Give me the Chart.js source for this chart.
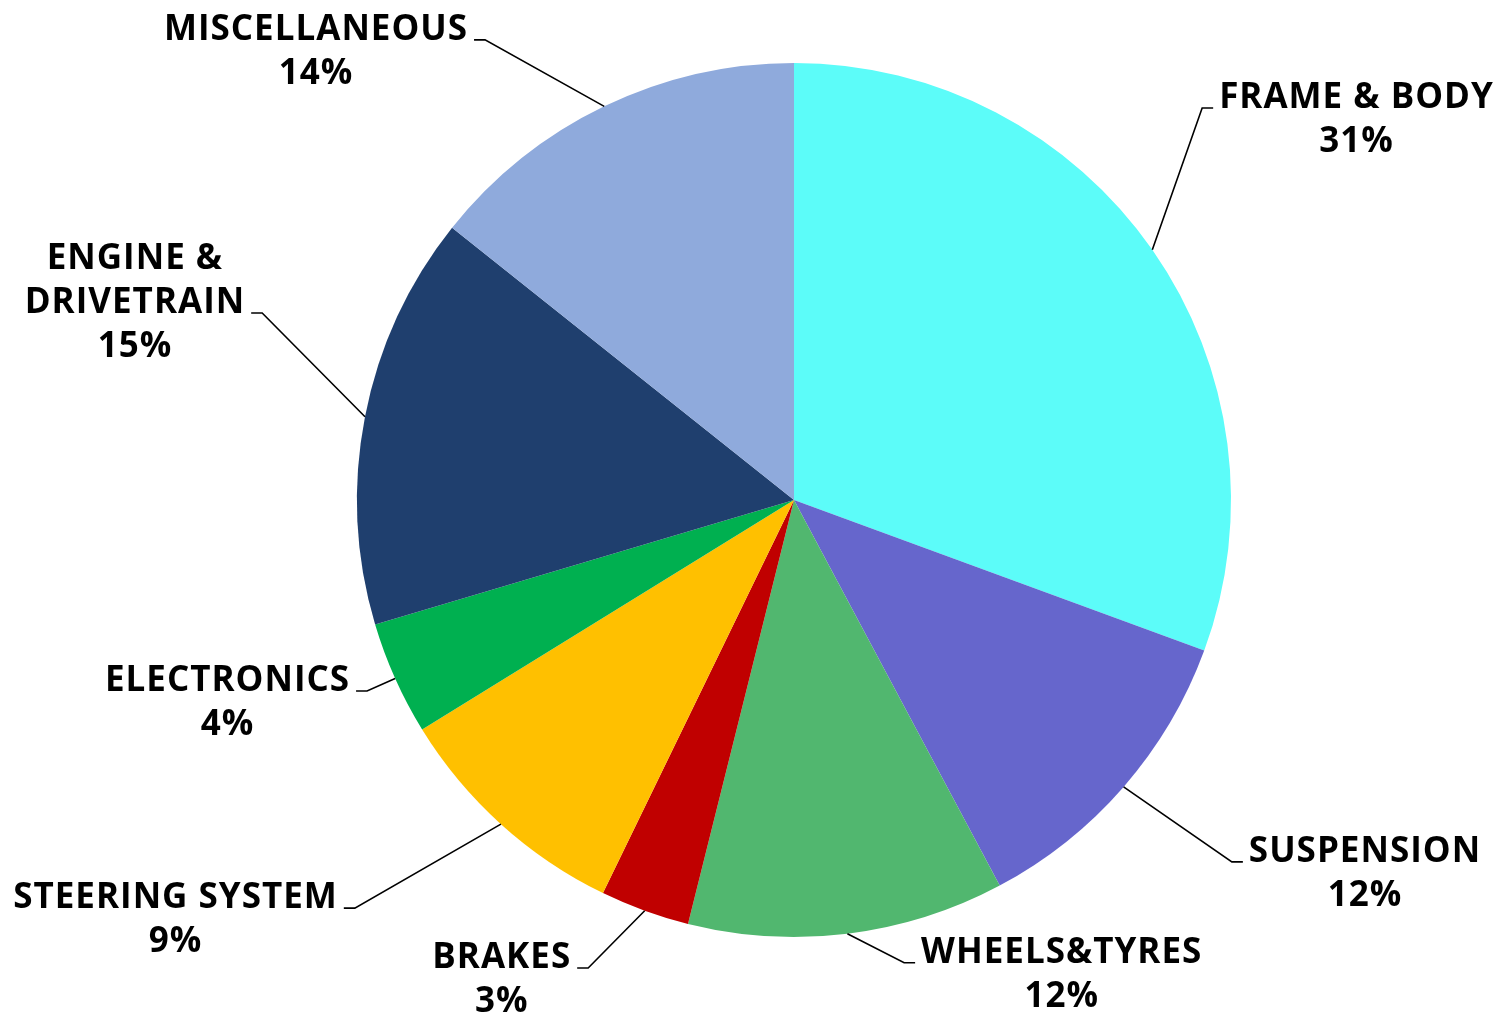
<!DOCTYPE html>
<html>
<head>
<meta charset="utf-8">
<script src="https://cdn.jsdelivr.net/npm/chart.js@4.4.1/dist/chart.umd.min.js"></script>
<style>
  html, body { margin: 0; padding: 0; background: #fff; }
  #wrap { width: 1499px; height: 1015px; }
</style>
</head>
<body>
<div id="wrap"><canvas id="myChart" width="1499" height="1015"></canvas></div>
<script>
// categories, clockwise from 12 o'clock
const categories = ['FRAME & BODY', 'SUSPENSION', 'WHEELS&TYRES', 'BRAKES',
  'STEERING SYSTEM', 'ELECTRONICS', 'ENGINE & DRIVETRAIN', 'MISCELLANEOUS'];
const labelLines = [['FRAME & BODY'], ['SUSPENSION'], ['WHEELS&TYRES'], ['BRAKES'],
  ['STEERING SYSTEM'], ['ELECTRONICS'], ['ENGINE &', 'DRIVETRAIN'], ['MISCELLANEOUS']];
const shares = [30.6, 11.6, 11.7, 3.3, 9.0, 4.2, 15.3, 14.3];
const colors = ['#5CFCF9', '#6666CC', '#51B76F', '#C00000',
  '#FFC000', '#00B050', '#1F3F6E', '#8FAADC'];

// where each leader line bends, in pie radii from the centre, and which side the text sits
const labelAnchors = [
  [0.934, -0.897, 1],
  [1.002, 0.828, 1],
  [0.252, 1.059, 1],
  [-0.471, 1.071, -1],
  [-1.005, 0.934, -1],
  [-0.977, 0.437, -1],
  [-1.217, -0.428, -1],
  [-0.707, -1.053, -1],
];

const labelFont = 'bold 35px "Open Sans", "Noto Sans", sans-serif';
const lineHeight = 44;
const stubLen = 11;
const textGap = 6;

const pieLabels = {
  id: 'pieLabels',
  afterDatasetsDraw(chart) {
    const { ctx } = chart;
    const meta = chart.getDatasetMeta(0);
    const total = shares.reduce((a, b) => a + b, 0);
    ctx.save();
    ctx.font = labelFont;
    ctx.letterSpacing = '1px';
    ctx.fillStyle = '#000';
    ctx.strokeStyle = '#000';
    ctx.lineWidth = 1.6;
    ctx.textAlign = 'center';
    ctx.textBaseline = 'alphabetic';
    meta.data.forEach((arc, i) => {
      const p = arc.getProps(['x', 'y', 'startAngle', 'endAngle', 'outerRadius'], true);
      const mid = (p.startAngle + p.endAngle) / 2;
      const r = p.outerRadius;
      const sx = p.x + Math.cos(mid) * r;
      const sy = p.y + Math.sin(mid) * r;
      const [fx, fy, side] = labelAnchors[i];
      const ex = p.x + fx * r;
      const ey = p.y + fy * r;
      const tx = ex + side * stubLen;

      ctx.beginPath();
      ctx.moveTo(sx, sy);
      ctx.lineTo(ex, ey);
      ctx.lineTo(tx, ey);
      ctx.stroke();

      const names = labelLines[i];
      const lines = names.concat([Math.round((shares[i] / total) * 100) + '%']);
      const widths = lines.map((t) => ctx.measureText(t).width);
      let attach = 0;
      names.forEach((t, j) => { if (widths[j] > widths[attach]) attach = j; });
      const blockW = Math.max(...widths);
      const cx = side > 0 ? tx + textGap + blockW / 2 : tx - textGap - blockW / 2;
      const top = ey - attach * lineHeight;
      lines.forEach((t, j) => ctx.fillText(t, cx, top + j * lineHeight));
    });
    ctx.restore();
  },
};

const chartRef = document.getElementById('myChart').getContext('2d');
const piechart = new Chart(chartRef, {
  type: 'pie',
  data: {
    labels: categories,
    datasets: [{
      data: shares,
      backgroundColor: colors,
      borderWidth: 0,
    }],
  },
  options: {
    animation: false,
    responsive: false,
    devicePixelRatio: 1,
    layout: {
      padding: { left: 357, right: 268, top: 63, bottom: 78 },
    },
    plugins: {
      legend: { display: false },
      tooltip: { enabled: false },
    },
  },
  plugins: [pieLabels],
});
</script>
</body>
</html>
